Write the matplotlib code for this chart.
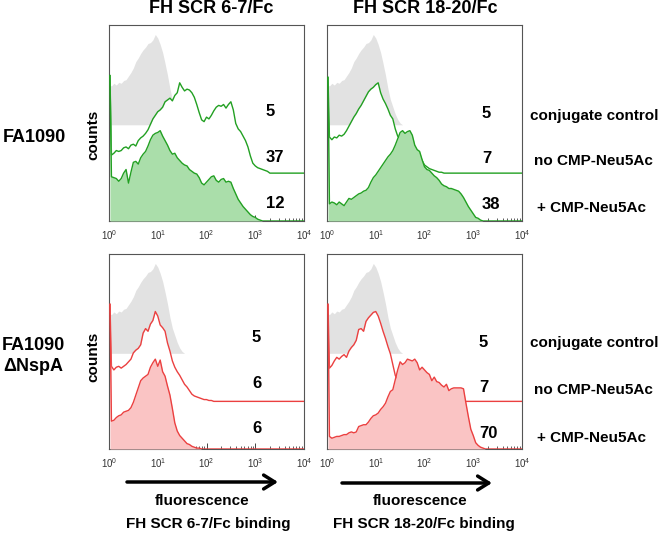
import numpy as np
import matplotlib
matplotlib.use("Agg")
import matplotlib.pyplot as plt
from matplotlib.patches import FancyArrowPatch

plt.rcParams['font.family'] = ['Liberation Sans', 'DejaVu Sans']

# ---------------- data ----------------
# log10 fluorescence channel positions (first channel = pile-up at minimum)
log_channels = [0.02] + [round(0.05 * i, 2) for i in range(1, 81)]

# histograms as % of mode (81 channels each)
control = [44, 43, 46, 44, 47, 46, 49, 50, 54, 58,
           63, 70, 74, 79, 83, 86, 90, 91, 94, 100,
           96, 89, 80, 68, 55, 40, 28, 20, 12, 6,
           2, 0, 0, 0, 0, 0, 0, 0, 0, 0,
           0, 0, 0, 0, 0, 0, 0, 0, 0, 0,
           0, 0, 0, 0, 0, 0, 0, 0, 0, 0,
           0, 0, 0, 0, 0, 0, 0, 0, 0, 0,
           0, 0, 0, 0, 0, 0, 0, 0, 0, 0, 0]

wt_scr67_no = [108, 20, 22, 25, 24, 25, 28, 29, 27, 31,
               32, 30, 36, 39, 41, 44, 48, 54, 60, 64,
               68, 70, 73, 79, 81, 83, 80, 86, 89, 100,
               95, 91, 93, 92, 89, 84, 76, 67, 59, 57,
               62, 60, 64, 69, 73, 75, 74, 76, 72, 76,
               79, 70, 55, 49, 46, 41, 36, 29, 19, 11,
               8, 6, 5, 4, 3, 2, 0, 0, 0, 0,
               0, 0, 0, 0, 0, 0, 0, 0, 0, 0, 0]

wt_scr67_plus = [161, 49, 48, 47, 44, 47, 53, 57, 42, 54,
                 65, 66, 63, 70, 74, 77, 83, 90, 95, 97,
                 98, 100, 94, 89, 84, 78, 74, 75, 70, 67,
                 64, 62, 61, 57, 55, 53, 52, 48, 42, 40,
                 43, 46, 49, 50, 45, 43, 46, 47, 43, 44,
                 43, 36, 30, 24, 20, 16, 13, 10, 7, 5,
                 4, 2, 1, 0, 0, 0, 0, 0, 0, 0,
                 0, 0, 0, 0, 0, 0, 0, 0, 0, 0, 0]

wt_scr1820_no = [106, 40, 37, 40, 39, 42, 41, 43, 47, 52,
                 57, 62, 66, 71, 75, 80, 85, 90, 93, 95,
                 98, 100, 89, 82, 77, 71, 64, 60, 49, 41,
                 38, 41, 38, 36, 33, 28, 25, 22, 20, 14,
                 9, 7, 5, 4, 3, 2, 1, 1, 0, 0,
                 0, 0, 0, 0, 0, 0, 0, 0, 0, 0,
                 0, 0, 0, 0, 0, 0, 0, 0, 0, 0,
                 0, 0, 0, 0, 0, 0, 0, 0, 0, 0, 0]

wt_scr1820_plus = [159, 19, 21, 20, 18, 21, 19, 17, 21, 25,
                   24, 26, 28, 30, 31, 33, 34, 37, 43, 48,
                   51, 55, 59, 63, 67, 71, 74, 78, 84, 91,
                   98, 100, 97, 99, 100, 95, 84, 79, 77, 68,
                   60, 57, 56, 53, 50, 48, 45, 41, 39, 38,
                   36, 36, 35, 34, 33, 30, 26, 21, 16, 12,
                   8, 4, 3, 1, 0, 0, 0, 0, 0, 0,
                   0, 0, 0, 0, 0, 0, 0, 0, 0, 0, 0]

nspa_scr67_no = [108, 39, 35, 38, 39, 37, 39, 41, 44, 47,
                 54, 57, 59, 63, 76, 81, 78, 86, 90, 100,
                 95, 85, 82, 78, 65, 56, 45, 38, 33, 29,
                 24, 19, 16, 12, 8, 6, 5, 4, 3, 2,
                 2, 1, 1, 0, 0, 0, 0, 0, 0, 0,
                 0, 0, 0, 0, 0, 0, 0, 0, 0, 0,
                 0, 0, 0, 0, 0, 0, 0, 0, 0, 0,
                 0, 0, 0, 0, 0, 0, 0, 0, 0, 0, 0]

nspa_scr67_plus = [161, 31, 32, 35, 37, 38, 41, 42, 43, 46,
                   52, 60, 68, 76, 79, 81, 83, 91, 96, 100,
                   92, 99, 86, 81, 70, 60, 45, 29, 20, 15,
                   12, 9, 6, 5, 3, 2, 1, 1, 0, 0,
                   0, 0, 0, 0, 0, 0, 0, 0, 0, 0,
                   0, 0, 0, 0, 0, 0, 0, 0, 0, 0,
                   0, 0, 0, 0, 0, 0, 0, 0, 0, 0,
                   0, 0, 0, 0, 0, 0, 0, 0, 0, 0, 0]

nspa_scr1820_no = [108, 37, 40, 45, 49, 47, 50, 52, 49, 56,
                   60, 63, 68, 80, 81, 78, 89, 93, 96, 99,
                   100, 95, 87, 78, 70, 61, 53, 41, 29, 24,
                   19, 15, 12, 10, 9, 8, 7, 6, 5, 5,
                   4, 4, 3, 3, 3, 2, 2, 2, 2, 1,
                   1, 1, 1, 1, 1, 1, 0, 0, 0, 0,
                   0, 0, 0, 0, 0, 0, 0, 0, 0, 0,
                   0, 0, 0, 0, 0, 0, 0, 0, 0, 0, 0]

nspa_scr1820_plus = [161, 14, 12, 13, 14, 14, 15, 16, 16, 18,
                     19, 18, 19, 25, 26, 27, 27, 30, 34, 37,
                     38, 40, 44, 47, 51, 58, 64, 66, 77, 88,
                     97, 94, 96, 100, 99, 98, 100, 96, 88, 91,
                     88, 85, 83, 76, 80, 75, 74, 71, 69, 72,
                     65, 67, 68, 68, 68, 68, 67, 51, 36, 22,
                     15, 7, 4, 2, 1, 0, 0, 0, 0, 0,
                     0, 0, 0, 0, 0, 0, 0, 0, 0, 0, 0]

col_titles = ["FH SCR 6-7/Fc", "FH SCR 18-20/Fc"]
row_labels = ["FA1090", "FA1090\nΔNspA"]
series_labels = ["conjugate control", "no CMP-Neu5Ac", "+ CMP-Neu5Ac"]
percent_labels = [[["5", "37", "12"], ["5", "7", "38"]],
                  [["5", "6", "6"], ["5", "7", "70"]]]
xlabel_top = "fluorescence"
xlabel_bottom = ["FH SCR 6-7/Fc binding", "FH SCR 18-20/Fc binding"]
ylabel = "counts"

panels = [[(wt_scr67_no, wt_scr67_plus), (wt_scr1820_no, wt_scr1820_plus)],
          [(nspa_scr67_no, nspa_scr67_plus), (nspa_scr1820_no, nspa_scr1820_plus)]]

# ---------------- style ----------------
W, H = 660, 536
row_colors = [("#22a022", "#aadeaa"), ("#eb4040", "#fac4c4")]
gray = "#e2e2e2"
off_line, off_gray, ytop = 53.0, 106.5, 217.0

fig = plt.figure(figsize=(W / 100, H / 100), dpi=100)


def fx(px):
    return px / W


def fy(py):
    return 1 - py / H


col_x = [109, 327]
panel_w = 195
row_y = [(25, 221), (254, 449)]

x = 10 ** np.array(log_channels)

for r in range(2):
    lc, fc = row_colors[r]
    for c in range(2):
        top, bot = row_y[r]
        ax = fig.add_axes([fx(col_x[c]), fy(bot), panel_w / W, (bot - top) / H])
        no, plus = panels[r][c]
        no = np.array(no, float)
        plus = np.array(plus, float)
        ctrl = np.array(control, float)
        ax.fill_between(x, off_gray, off_gray + ctrl, color=gray, lw=0, zorder=1)
        ax.fill_between(x, off_line, off_line + no, color="white", lw=0, zorder=2)
        ax.plot(x, off_line + no, color=lc, lw=1.0, zorder=3)
        ax.fill_between(x, 0, plus, color=fc, lw=0, zorder=4)
        ax.plot(x, plus, color=lc, lw=1.0, zorder=5)
        ax.set_xscale("log")
        ax.set_xlim(1, 1e4)
        ax.set_ylim(0, ytop)
        ax.set_yticks([])
        ax.tick_params(axis="x", which="major", direction="in", length=4,
                       width=0.7, color="#444", labelsize=7, labelcolor="#333", pad=5)
        ax.tick_params(axis="x", which="minor", direction="in", length=2.5,
                       width=0.6, color="#444")
        for s in ax.spines.values():
            s.set_color("#555")
            s.set_linewidth(0.8)

# column titles
for c, (t, cx) in enumerate(zip(col_titles, [210.7, 425])):
    fig.text(fx(cx), fy(8.5), t, ha="center", va="center",
             fontsize=13, fontweight="bold")

# row labels
fig.text(fx(34), fy(137), row_labels[0], ha="center", va="center",
         fontsize=13, fontweight="bold")
fig.text(fx(33), fy(356), row_labels[1], ha="center", va="center",
         fontsize=13, fontweight="bold", linespacing=1.25)

# counts labels
for cy in [135, 356.5]:
    fig.text(fx(93), fy(cy), ylabel, rotation=90, ha="center", va="center",
             fontsize=11, fontweight="bold")

# percentage numbers
num_pos = [[(266, [112, 158, 203]), (482, [113, 158.5, 204.7])],
           [(252, [337.5, 383, 428.5]), (479, [342.5, 387.5, 433])]]
for r in range(2):
    for c in range(2):
        nx, ys = num_pos[r][c]
        for lab, ny in zip(percent_labels[r][c], ys):
            fig.text(fx(nx), fy(ny), lab, ha="left", va="center",
                     fontsize=12, fontweight="bold")

# series labels at right
lab_x = [530, 534, 537]
lab_y = [[116, 161, 208], [343, 389.5, 437.5]]
for r in range(2):
    for lab, lx, ly in zip(series_labels, lab_x, lab_y[r]):
        fig.text(fx(lx), fy(ly), lab, ha="left", va="center",
                 fontsize=11, fontweight="bold")

# arrows and x labels
arrows = [((127, 482), (278, 482)), ((342, 483), (492, 483))]
for (a, b) in arrows:
    arr = FancyArrowPatch((fx(a[0]), fy(a[1])), (fx(b[0]), fy(b[1])),
                          transform=fig.transFigure,
                          arrowstyle="->,head_length=0.8,head_width=0.5",
                          mutation_scale=10, lw=2.5, color="black",
                          shrinkA=0, shrinkB=0)
    fig.add_artist(arr)

for cx1, cx2, txt in [(202, 208.7, xlabel_bottom[0]), (420, 424, xlabel_bottom[1])]:
    fig.text(fx(cx1), fy(501), xlabel_top, ha="center", va="center",
             fontsize=11, fontweight="bold")
    fig.text(fx(cx2), fy(524), txt, ha="center", va="center",
             fontsize=11, fontweight="bold")

fig.savefig("out.png", dpi=100)
